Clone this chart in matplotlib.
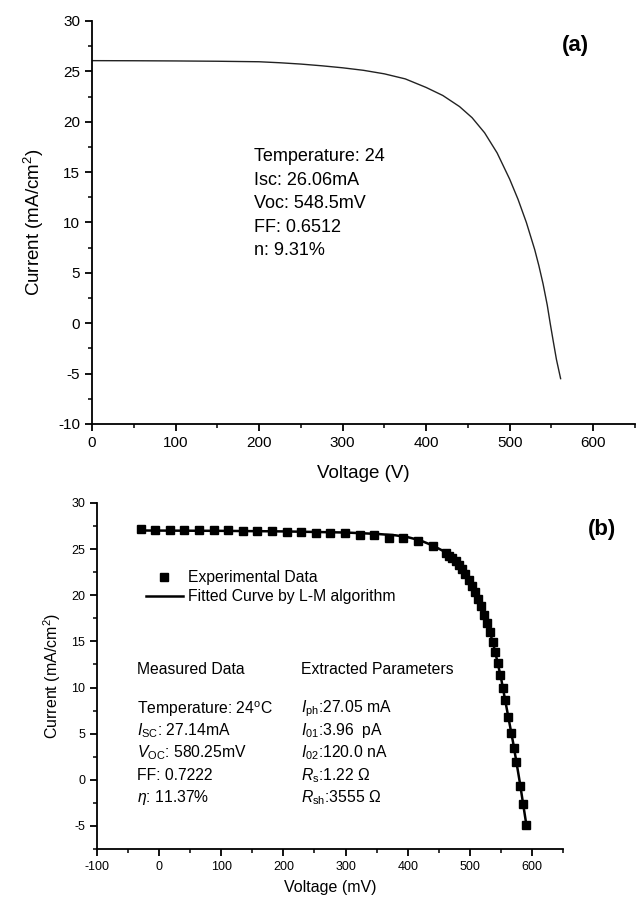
import matplotlib
matplotlib.use("Agg")
import matplotlib.pyplot as plt
from matplotlib.ticker import MultipleLocator

plt.rcParams['font.family'] = ['Liberation Sans', 'DejaVu Sans']
plt.rcParams['mathtext.fontset'] = 'custom'
plt.rcParams['mathtext.rm'] = 'Liberation Sans'
plt.rcParams['mathtext.it'] = 'Liberation Sans:italic'
plt.rcParams['mathtext.bf'] = 'Liberation Sans:bold'
plt.rcParams['axes.unicode_minus'] = False

# (a) measured I-V curve
volt_a = [0, 50, 100, 150, 200, 225, 250, 275, 300, 325, 350, 375, 400, 420,
          440, 455, 470, 485, 500, 510, 520, 530, 535, 540, 545, 548.5, 552, 556, 561]
curr_a = [26.06, 26.05, 26.03, 26.0, 25.95, 25.85, 25.72, 25.55, 25.35, 25.1,
          24.75, 24.25, 23.4, 22.6, 21.5, 20.4, 18.9, 16.9, 14.3, 12.3, 10.0,
          7.3, 5.7, 3.9, 1.8, 0.0, -1.7, -3.6, -5.5]
info_a = ["Temperature: 24", "Isc: 26.06mA", "Voc: 548.5mV", "FF: 0.6512", "n: 9.31%"]

# (b) experimental points and L-M fitted curve
volt_exp = [-30, -6.5, 17, 40.5, 64, 87.5, 111, 134.5, 158, 181.5, 205, 228.5,
            252, 275.5, 299, 322.5, 346, 369.5, 393, 416.5, 440,
            462, 467, 472, 477, 482, 488, 493, 498, 503, 508, 513, 518, 523, 528,
            533, 537, 541, 545, 549, 553, 557, 562, 566, 571, 575, 581, 586, 591]
curr_exp = [27.2, 27.1, 27.1, 27.1, 27.1, 27.05, 27.05, 27.0, 27.0, 26.95, 26.9, 26.85,
            26.8, 26.75, 26.7, 26.55, 26.5, 26.25, 26.2, 25.85, 25.35,
            24.6, 24.3, 24.0, 23.7, 23.3, 22.9, 22.3, 21.7, 21.0, 20.3, 19.6, 18.8, 17.9, 17.0,
            16.0, 14.9, 13.9, 12.7, 11.4, 10.0, 8.6, 6.8, 5.1, 3.5, 1.9, -0.7, -2.6, -4.9]
volt_fit = [-30, 0, 100, 200, 300, 350, 380, 400, 420, 440, 450, 460, 470, 480,
            490, 500, 510, 520, 530, 540, 550, 560, 570, 580, 591]
curr_fit = [27.02, 27.01, 26.98, 26.92, 26.8, 26.65, 26.5, 26.3, 25.95, 25.4, 25.05,
            24.7, 24.15, 23.55, 22.75, 21.45, 20.1, 18.5, 16.6, 14.1, 11.1, 7.5, 3.9,
            -0.1, -4.9]
measured = ["Temperature: 24$^{\\rm o}$C", "$I_{\\rm SC}$: 27.14mA", "$V_{\\rm OC}$: 580.25mV",
            "FF: 0.7222", "$\\eta$: 11.37%"]
extracted = ["$I_{\\rm ph}$:27.05 mA", "$I_{\\rm 01}$:3.96  pA", "$I_{\\rm 02}$:120.0 nA",
             "$R_{\\rm s}$:1.22 Ω", "$R_{\\rm sh}$:3555 Ω"]


def style_axes(ax, tick_size):
    ax.spines['top'].set_visible(False)
    ax.spines['right'].set_visible(False)
    for s in ('left', 'bottom'):
        ax.spines[s].set_linewidth(1.3)
    ax.tick_params(which='major', direction='out', length=5, width=1.3, labelsize=tick_size)
    ax.tick_params(which='minor', direction='out', length=3, width=1.1)


fig = plt.figure(figsize=(6.37, 8.99), dpi=100)

# ---- panel (a)
ax1 = fig.add_axes([0.1444, 0.5284, 0.8524, 0.4483])
ax1.plot(volt_a, curr_a, color='#222222', lw=1.0)
ax1.set_xlim(0, 650)
ax1.set_ylim(-10, 30)
ax1.xaxis.set_major_locator(MultipleLocator(100))
ax1.xaxis.set_minor_locator(MultipleLocator(50))
ax1.yaxis.set_major_locator(MultipleLocator(5))
ax1.yaxis.set_minor_locator(MultipleLocator(2.5))
style_axes(ax1, 11)
ax1.set_xlabel("Voltage (V)", fontsize=13.5, labelpad=11)
ax1.set_ylabel("Current (mA/cm$^2$)", fontsize=13.5, labelpad=9)
for i, line in enumerate(info_a):
    ax1.text(194, 16.5 - i * 2.32, line, fontsize=13, va='center', ha='left')
ax1.text(0.891, 0.94, "(a)", transform=ax1.transAxes, fontsize=16,
         fontweight='bold', ha='center', va='center')

# ---- panel (b)
ax2 = fig.add_axes([0.1523, 0.0556, 0.7316, 0.3849])
ax2.plot(volt_fit, curr_fit, color='black', lw=1.8, label="Fitted Curve by L-M algorithm")
ax2.plot(volt_exp, curr_exp, ls='none', marker='s', ms=5.5, color='black',
         label="Experimental Data")
ax2.set_xlim(-100, 650)
ax2.set_ylim(-7.5, 30)
ax2.xaxis.set_major_locator(MultipleLocator(100))
ax2.xaxis.set_minor_locator(MultipleLocator(50))
ax2.yaxis.set_major_locator(MultipleLocator(5))
ax2.yaxis.set_minor_locator(MultipleLocator(2.5))
style_axes(ax2, 9)
ax2.set_xlabel("Voltage (mV)", fontsize=11.5, labelpad=5)
ax2.set_ylabel("Current (mA/cm$^2$)", fontsize=11.5, labelpad=6)

h, l = ax2.get_legend_handles_labels()
ax2.legend(h[::-1], l[::-1], loc='center left', bbox_to_anchor=(0.105, 0.757),
           frameon=False, fontsize=11.3, handlelength=2.35, handletextpad=0.3,
           labelspacing=0.25, borderpad=0, borderaxespad=0)

ax2.text(-36, 12.0, "Measured Data", fontsize=11.3, va='center', ha='left')
ax2.text(229, 12.0, "Extracted Parameters", fontsize=11.3, va='center', ha='left')
for i, (m, e) in enumerate(zip(measured, extracted)):
    y = 7.7 - i * 2.4
    ax2.text(-36, y, m, fontsize=11.3, va='center', ha='left')
    ax2.text(229, y, e, fontsize=11.3, va='center', ha='left')

fig.text(0.945, 0.4105, "(b)", fontsize=16, fontweight='bold', ha='center', va='center')

fig.savefig("out.png", dpi=100)
